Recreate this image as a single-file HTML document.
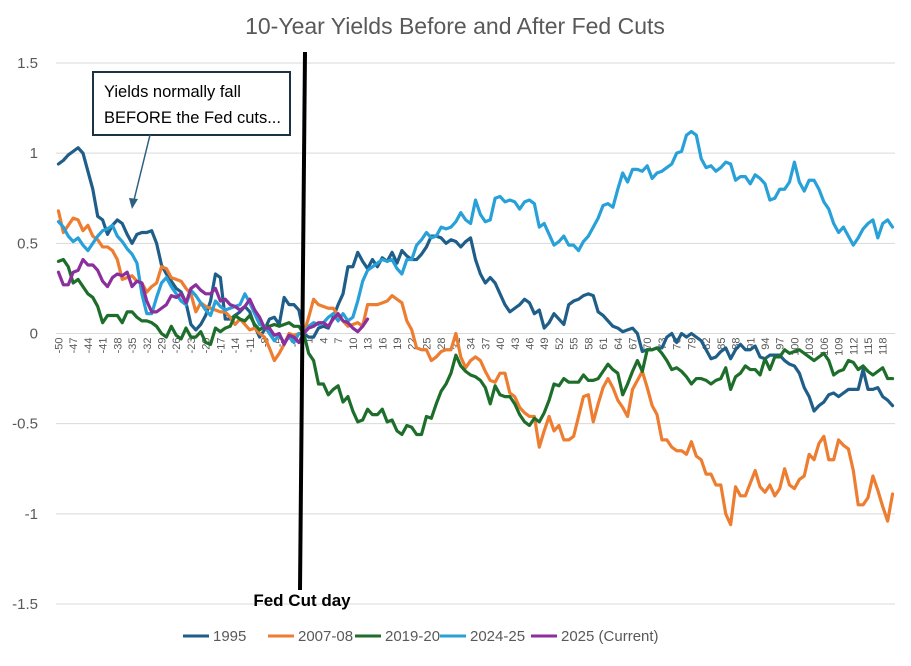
<!DOCTYPE html>
<html><head><meta charset="utf-8">
<style>
html,body{margin:0;padding:0;background:#fff;}
body{width:911px;height:661px;overflow:hidden;font-family:"Liberation Sans",sans-serif;}
svg text{font-family:"Liberation Sans",sans-serif;}
</style></head>
<body>
<svg id="chart" width="911" height="661" viewBox="0 0 911 661" xmlns="http://www.w3.org/2000/svg">
  <rect x="0" y="0" width="911" height="661" fill="#fff"/>
  <text x="455" y="34" text-anchor="middle" font-size="23" fill="#595959">10-Year Yields Before and After Fed Cuts</text>
  <g id="grid"></g>
  <g id="yaxis"></g>
  <g id="xaxis"></g>
  <g id="series"></g>
  <line x1="305" y1="52" x2="300" y2="590" stroke="#000" stroke-width="4"/>
  <text x="302" y="606" text-anchor="middle" font-size="17" font-weight="bold" fill="#000">Fed Cut day</text>
  <g>
    <rect x="93" y="72" width="197" height="63" fill="#fff" stroke="#1c3344" stroke-width="2"/>
    <text x="104" y="97" font-size="16.5" fill="#000">Yields normally fall</text>
    <text x="104" y="123" font-size="16.5" fill="#000">BEFORE the Fed cuts...</text>
    <line x1="150" y1="135" x2="134" y2="200" stroke="#2e5f80" stroke-width="1.5"/>
    <polygon points="132,209 129,198 138,199" fill="#2e5f80"/>
  </g>
  <g id="legend"></g>
</svg>
<script>
const categories = [];
for (let c = -50; c <= 120; c++) categories.push(c);
const yTicks = [1.5, 1, 0.5, 0, -0.5, -1, -1.5];
const yTickLabels = ["1.5", "1", "0.5", "0", "-0.5", "-1", "-1.5"];
const seriesNames = ["1995", "2007-08", "2019-20", "2024-25", "2025 (Current)"];
const s1995 = [0.94,0.96,0.99,1.01,1.03,1.00,0.90,0.80,0.65,0.63,0.55,0.60,0.63,0.61,0.55,0.50,0.55,0.56,0.56,0.57,0.50,0.38,0.33,0.29,0.25,0.23,0.17,0.05,0.02,0.05,0.10,0.18,0.33,0.31,0.08,0.08,0.10,0.12,0.15,0.12,0.04,-0.02,0.02,0.08,0.09,0.05,0.20,0.16,0.16,0.13,0,
-0.02,-0.02,0.03,0.04,0.03,0.09,0.16,0.22,0.37,0.37,0.45,0.40,0.36,0.41,0.37,0.42,0.40,0.45,0.39,0.46,0.43,0.41,0.41,0.44,0.48,0.54,0.54,0.53,0.50,0.52,0.51,0.48,0.51,0.53,0.41,0.33,0.28,0.31,0.28,0.22,0.16,0.12,0.14,0.16,0.19,0.17,0.11,0.13,0.03,0.06,0.11,0.08,0.05,0.16,0.18,0.19,0.21,0.22,0.21,0.12,0.10,0.07,0.04,0.03,0.01,0.02,0.03,0,-0.10,-0.09,-0.09,-0.08,-0.08,-0.02,0,-0.05,0,-0.02,0,-0.02,-0.04,-0.09,-0.14,-0.13,-0.10,-0.08,-0.14,-0.09,-0.06,-0.09,-0.09,-0.07,-0.13,-0.14,-0.12,-0.12,-0.12,-0.15,-0.17,-0.18,-0.22,-0.30,-0.35,-0.43,-0.40,-0.38,-0.34,-0.33,-0.35,-0.33,-0.31,-0.31,-0.31,-0.20,-0.31,-0.31,-0.30,-0.35,-0.37,-0.40];
const s2007 = [0.68,0.56,0.60,0.64,0.63,0.57,0.60,0.54,0.52,0.48,0.48,0.46,0.41,0.30,0.31,0.32,0.29,0.28,0.23,0.26,0.28,0.37,0.36,0.31,0.30,0.29,0.25,0.22,0.12,0.17,0.15,0.14,0.13,0.12,0.12,0.09,0.05,0.08,0.05,0.02,0.03,0,-0.02,-0.08,-0.15,-0.11,-0.06,0,-0.01,0,0,
0.09,0.19,0.16,0.15,0.14,0.14,0.10,0.07,0.04,0.05,0.06,0.04,0.16,0.16,0.16,0.17,0.18,0.21,0.19,0.17,0.07,0.02,-0.08,-0.09,-0.09,-0.15,-0.13,-0.10,-0.09,-0.09,0,-0.13,-0.19,-0.15,-0.13,-0.15,-0.21,-0.26,-0.27,-0.22,-0.22,-0.33,-0.35,-0.41,-0.44,-0.46,-0.46,-0.63,-0.54,-0.46,-0.54,-0.51,-0.59,-0.59,-0.57,-0.46,-0.35,-0.34,-0.49,-0.39,-0.30,-0.25,-0.30,-0.37,-0.41,-0.46,-0.31,-0.26,-0.21,-0.30,-0.40,-0.45,-0.59,-0.59,-0.63,-0.65,-0.65,-0.67,-0.60,-0.68,-0.70,-0.78,-0.78,-0.84,-0.84,-1.00,-1.06,-0.85,-0.90,-0.90,-0.83,-0.76,-0.85,-0.88,-0.84,-0.90,-0.86,-0.75,-0.84,-0.86,-0.81,-0.79,-0.67,-0.70,-0.61,-0.57,-0.70,-0.70,-0.59,-0.62,-0.64,-0.76,-0.95,-0.95,-0.91,-0.79,-0.87,-0.96,-1.04,-0.89];
const s2019 = [0.40,0.41,0.37,0.28,0.30,0.26,0.22,0.20,0.15,0.06,0.10,0.10,0.10,0.06,0.12,0.12,0.09,0.07,0.07,0.06,0.04,0,-0.02,0.04,-0.01,-0.03,0.03,-0.02,-0.02,0.01,-0.05,-0.06,0.03,0.01,0.03,0.04,0.10,0.08,0.07,0.10,0.05,0.02,0.04,0.04,0.05,0.04,0.05,0.06,0.04,0.04,0,
-0.11,-0.15,-0.28,-0.28,-0.34,-0.31,-0.29,-0.38,-0.35,-0.43,-0.49,-0.48,-0.42,-0.45,-0.45,-0.42,-0.49,-0.48,-0.54,-0.56,-0.51,-0.52,-0.56,-0.56,-0.46,-0.47,-0.39,-0.32,-0.28,-0.22,-0.12,-0.18,-0.21,-0.23,-0.24,-0.26,-0.30,-0.39,-0.29,-0.34,-0.35,-0.35,-0.39,-0.45,-0.49,-0.51,-0.47,-0.49,-0.44,-0.37,-0.28,-0.29,-0.25,-0.27,-0.27,-0.27,-0.23,-0.26,-0.26,-0.25,-0.21,-0.17,-0.20,-0.22,-0.34,-0.28,-0.21,-0.15,-0.21,-0.09,-0.09,-0.08,-0.11,-0.15,-0.20,-0.19,-0.21,-0.24,-0.28,-0.25,-0.25,-0.26,-0.28,-0.26,-0.25,-0.19,-0.31,-0.24,-0.22,-0.18,-0.20,-0.20,-0.23,-0.14,-0.20,-0.13,-0.13,-0.09,-0.11,-0.10,-0.09,-0.11,-0.13,-0.15,-0.13,-0.11,-0.15,-0.23,-0.21,-0.20,-0.15,-0.16,-0.20,-0.18,-0.21,-0.23,-0.21,-0.19,-0.25,-0.25];
const s2024 = [0.62,0.59,0.54,0.51,0.53,0.49,0.46,0.50,0.54,0.57,0.58,0.60,0.54,0.51,0.47,0.44,0.39,0.22,0.11,0.11,0.20,0.28,0.31,0.26,0.22,0.18,0.16,0.24,0.21,0.17,0.13,0.10,0.18,0.15,0.13,0.14,0.15,0.16,0.22,0.17,0.11,0.05,0.04,0,-0.04,-0.01,-0.05,-0.02,-0.05,0,0,
0.04,0.06,0.05,0.06,0.09,0.11,0.07,0.11,0.07,0.09,0.18,0.29,0.35,0.37,0.39,0.41,0.40,0.41,0.36,0.33,0.41,0.41,0.49,0.52,0.56,0.53,0.54,0.59,0.58,0.59,0.62,0.67,0.63,0.61,0.74,0.66,0.62,0.63,0.75,0.76,0.73,0.74,0.73,0.69,0.73,0.74,0.72,0.59,0.61,0.55,0.49,0.51,0.54,0.49,0.49,0.46,0.51,0.54,0.59,0.64,0.71,0.72,0.70,0.80,0.89,0.84,0.91,0.91,0.90,0.93,0.86,0.89,0.90,0.92,0.94,1.00,1.01,1.10,1.12,1.10,0.97,0.92,0.93,0.90,0.92,0.95,0.94,0.85,0.87,0.87,0.83,0.88,0.86,0.83,0.74,0.75,0.80,0.80,0.84,0.95,0.84,0.79,0.85,0.85,0.80,0.73,0.69,0.61,0.56,0.59,0.54,0.49,0.53,0.58,0.61,0.63,0.53,0.61,0.63,0.59];
const s2025 = [0.34,0.27,0.27,0.34,0.35,0.41,0.38,0.38,0.35,0.29,0.26,0.31,0.33,0.32,0.34,0.26,0.29,0.28,0.18,0.12,0.12,0.14,0.16,0.21,0.20,0.22,0.17,0.25,0.27,0.24,0.22,0.22,0.25,0.18,0.19,0.16,0.15,0.13,0.15,0.19,0.13,0.09,0.03,0.03,-0.01,0,-0.06,-0.01,-0.02,-0.05,0,
0.03,0.04,0.06,0.06,0.04,0.08,0.11,0.07,0.06,0.03,0.01,0.04,0.08];
const seriesData = [s1995, s2007, s2019, s2024, s2025];
const seriesColors = ["#1f5e88", "#ed7d31", "#1e6e2b", "#28a0d8", "#8b2f9c"];
const xTickStep = 3;

const plotLeft = 56, plotRight = 895, yTop = 63, yBottom = 604;
const catW = (plotRight - plotLeft) / categories.length;
function xPos(i) { return plotLeft + (i + 0.5) * catW; }
function yPos(v) { return yTop + (1.5 - v) / 3 * (yBottom - yTop); }
const NS = "http://www.w3.org/2000/svg";
function mk(tag, attrs, parent) {
  const el = document.createElementNS(NS, tag);
  for (const k in attrs) el.setAttribute(k, attrs[k]);
  parent.appendChild(el);
  return el;
}
const grid = document.getElementById("grid");
const yaxis = document.getElementById("yaxis");
const xaxis = document.getElementById("xaxis");
const seriesG = document.getElementById("series");
const legend = document.getElementById("legend");

yTicks.forEach((t, k) => {
  const y = yPos(t);
  if (t !== 0) {
    const gl = mk("line", {x1: plotLeft, x2: plotRight, y1: y, y2: y, stroke: "#d9d9d9", "stroke-width": 1}, grid);
    
    
  }
  const tx = mk("text", {x: 38, y: y + 5, "text-anchor": "end", "font-size": 15, fill: "#595959"}, yaxis);
  tx.textContent = yTickLabels[k];
  
  
});
const zl = mk("line", {x1: plotLeft, x2: plotRight, y1: yPos(0), y2: yPos(0), stroke: "#d9d9d9", "stroke-width": 1}, xaxis);


categories.forEach((c, i) => {
  if (i % xTickStep !== 0) return;
  const x = xPos(i), y = yPos(0) + 4;
  const tx = mk("text", {x: 0, y: 0, "text-anchor": "end", "font-size": 11, fill: "#595959",
    transform: `translate(${x + 4},${y}) rotate(-90)`}, xaxis);
  tx.textContent = String(c);
  
  
});
seriesData.forEach((arr, s) => {
  const pts = arr.map((v, i) => xPos(i).toFixed(2) + "," + yPos(v).toFixed(2)).join(" ");
  const pl = mk("polyline", {points: pts, fill: "none", stroke: seriesColors[s], "stroke-width": 3.2, "stroke-linejoin": "round", "stroke-linecap": "round"}, seriesG);
  
  
});
const legendX = [183, 268, 355, 440, 531];
seriesNames.forEach((n, s) => {
  const g = mk("g", {}, legend);
  
  
  mk("line", {x1: legendX[s], x2: legendX[s] + 26, y1: 636, y2: 636, stroke: seriesColors[s], "stroke-width": 3}, g);
  const t = mk("text", {x: legendX[s] + 30, y: 641, "font-size": 15, fill: "#595959"}, g);
  t.textContent = n;
});
</script>
</body></html>
